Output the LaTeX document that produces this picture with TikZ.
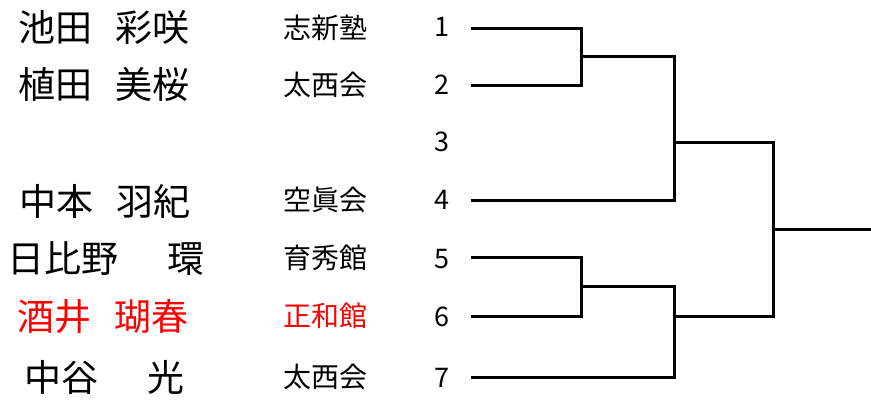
\documentclass[tikz,border=0pt]{standalone}
\usepackage{fontspec}
\newfontfamily\jp{Noto Sans CJK JP}
\definecolor{winred}{RGB}{255,0,0}
\begin{document}
\begin{tikzpicture}[x=1pt,y=-1pt,
  entrant/.style={font=\jp\fontsize{37}{37}\selectfont, anchor=base, inner sep=0pt},
  dojo/.style={font=\jp\fontsize{28}{28}\selectfont, anchor=base, inner sep=0pt},
  seed/.style={font=\jp\fontsize{27}{27}\selectfont, anchor=base, inner sep=0pt},
  bracket/.style={line width=3pt, draw=black}]
\useasboundingbox (0,0) rectangle (871,401);
% names
\node[entrant] (n1) at (104,41.5) {池田\hspace{0.62em}彩咲};
\node[entrant] (n2) at (104,98.5) {植田\hspace{0.62em}美桜};
\node[entrant] (n4) at (105,215.5) {中本\hspace{0.62em}羽紀};
\node[entrant] (n5) at (106,272.5) {日比野\hspace{1.3em}環};
\node[entrant, text=winred] (n6) at (103,330.5) {酒井\hspace{0.62em}瑚春};
\node[entrant] (n7) at (104.5,391) {中谷\hspace{1.3em}光};
% schools
\node[dojo] (s1) at (325,38.6) {志新塾};
\node[dojo] (s2) at (325,95.6) {太西会};
\node[dojo] (s4) at (325,210.6) {空眞会};
\node[dojo] (s5) at (325,268.6) {育秀館};
\node[dojo, text=winred] (s6) at (325,326.6) {正和館};
\node[dojo] (s7) at (325,387.6) {太西会};
% seeds
\node[seed] (k1) at (442,37) {1};
\node[seed] (k2) at (442,95) {2};
\node[seed] (k3) at (442,152) {3};
\node[seed] (k4) at (442,210) {4};
\node[seed] (k5) at (442,268) {5};
\node[seed] (k6) at (442,326) {6};
\node[seed] (k7) at (442,387) {7};
% bracket
\coordinate (e1) at (471,28.5);
\coordinate (e2) at (471,85.5);
\coordinate (e4) at (471,200.5);
\coordinate (e5) at (471,257.5);
\coordinate (e6) at (471,316.5);
\coordinate (e7) at (471,377.5);
\coordinate (j12) at (581.5,56.5);
\coordinate (j124) at (674.5,142.5);
\coordinate (j56) at (581.5,286.5);
\coordinate (j567) at (674.5,316.5);
\coordinate (jf) at (773.5,229.5);
\coordinate (champ) at (871,229.5);
\draw[bracket] (e1) -| (j12) |- (e2);
\draw[bracket] (j12) -| (j124) |- (e4);
\draw[bracket] (e5) -| (j56) |- (e6);
\draw[bracket] (j56) -| (j567) |- (e7);
\draw[bracket] (j124) -| (jf) |- (j567);
\draw[bracket] (jf) -- (champ);
\end{tikzpicture}
\end{document}
